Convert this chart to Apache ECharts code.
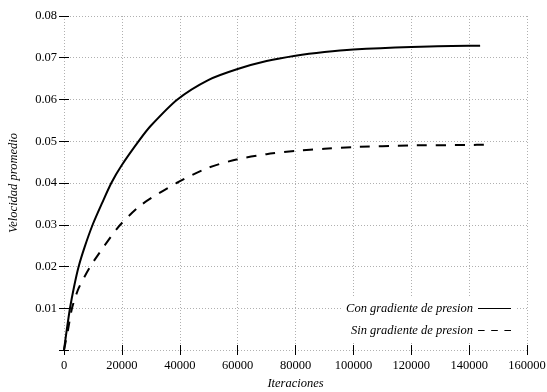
<!DOCTYPE html>
<html>
<head>
<meta charset="utf-8">
<script src="https://cdn.jsdelivr.net/npm/echarts@6/dist/echarts.min.js"></script>
<style>
  html, body { margin: 0; padding: 0; background: #fff; }
  #chart { width: 547px; height: 392px; }
</style>
</head>
<body>
<div id="chart"></div>
<script>
// valores
const conX = [0, 930, 2070, 3460, 5070, 7150, 9900, 13100, 16350, 20000, 26000, 30000, 39200, 50000, 60000, 70000, 80000, 90000, 100000, 120000, 140000, 143800]
const conY = [0, 0.0047, 0.010, 0.0151, 0.020, 0.0247, 0.030, 0.0351, 0.040, 0.0443, 0.0502, 0.0537, 0.060, 0.0647, 0.0673, 0.0692, 0.0705, 0.0714, 0.0720, 0.0726, 0.0729, 0.0729]
const sinX = [0, 1380, 2760, 5070, 9100, 13700, 19450, 26950, 38900, 50000, 60000, 70000, 80000, 90000, 100000, 120000, 140000, 145800]
const sinY = [0, 0.0048, 0.010, 0.0148, 0.020, 0.0247, 0.030, 0.0349, 0.040, 0.0437, 0.0457, 0.0469, 0.0477, 0.0482, 0.0486, 0.0490, 0.0491, 0.0492]
const seriesNames = ['Con gradiente de presion', 'Sin gradiente de presion']

const font = 'Liberation Serif'
const pair = (xs, ys) => xs.map((x, i) => [x, ys[i]])

var myChart = echarts.init(document.getElementById('chart'), null, { renderer: 'canvas' })

const gridLine = { show: true, lineStyle: { color: '#b0b0b0', type: [1, 2], width: 1 } }
const ticks = { show: true, inside: true, length: 5, lineStyle: { color: '#000', width: 1 } }

const xBase = { type: 'value', min: 0, max: 160000, interval: 20000 }
const yBase = { type: 'value', min: 0, max: 0.08, interval: 0.01 }

var option = {
    backgroundColor: '#fff',
    animation: false,
    grid: { left: 64, right: 20, top: 16, bottom: 42, outerBoundsMode: 'none' },
    legend: {
        orient: 'vertical',
        right: 32,
        top: 298,
        align: 'right',
        backgroundColor: '#fff',
        padding: [4, 4],
        itemGap: 9,
        itemWidth: 33,
        itemHeight: 2,
        textStyle: { fontFamily: font, fontStyle: 'italic', fontSize: 12.5, color: '#000' },
        data: [
            { name: seriesNames[0], icon: 'path://M0,0H33V1H0Z', itemStyle: { color: '#000' } },
            { name: seriesNames[1], icon: 'path://M0,0H6V1H0ZM12,0H18V1H12ZM24,0H30V1H24Z', itemStyle: { color: '#000' } },
        ],
    },
    xAxis: [
        Object.assign({}, xBase, {
            position: 'bottom',
            name: 'Iteraciones',
            nameLocation: 'middle',
            nameGap: 27,
            nameTextStyle: { fontFamily: font, fontStyle: 'italic', fontSize: 12.5, color: '#000' },
            axisLine: { show: false },
            axisTick: ticks,
            axisLabel: { fontFamily: font, fontSize: 12.5, color: '#000', margin: 9, formatter: v => String(v) },
            splitLine: gridLine,
        }),
        Object.assign({}, xBase, {
            position: 'top',
            axisLine: { show: false },
            axisTick: ticks,
            axisLabel: { show: false },
            splitLine: { show: false },
        }),
    ],
    yAxis: [
        Object.assign({}, yBase, {
            position: 'left',
            name: 'Velocidad promedio',
            nameLocation: 'middle',
            nameGap: 44,
            nameTextStyle: { fontFamily: font, fontStyle: 'italic', fontSize: 12.5, color: '#000' },
            axisLine: { show: false },
            axisTick: ticks,
            axisLabel: {
                fontFamily: font, fontSize: 12.5, color: '#000', margin: 7,
                formatter: v => (v === 0 ? '' : v.toFixed(2)),
            },
            splitLine: gridLine,
        }),
        Object.assign({}, yBase, {
            position: 'right',
            axisLine: { show: false },
            axisTick: ticks,
            axisLabel: { show: false },
            splitLine: { show: false },
        }),
    ],
    series: [
        {
            name: seriesNames[0],
            type: 'line',
            smooth: 0.25,
            showSymbol: false,
            data: pair(conX, conY),
            lineStyle: { color: '#000', width: 2 },
            itemStyle: { color: '#000' },
        },
        {
            name: seriesNames[1],
            type: 'line',
            smooth: 0.25,
            showSymbol: false,
            data: pair(sinX, sinY),
            lineStyle: { color: '#000', width: 2, type: [10, 9] },
            itemStyle: { color: '#000' },
        },
    ],
}
myChart.setOption(option)
</script>
</body>
</html>
